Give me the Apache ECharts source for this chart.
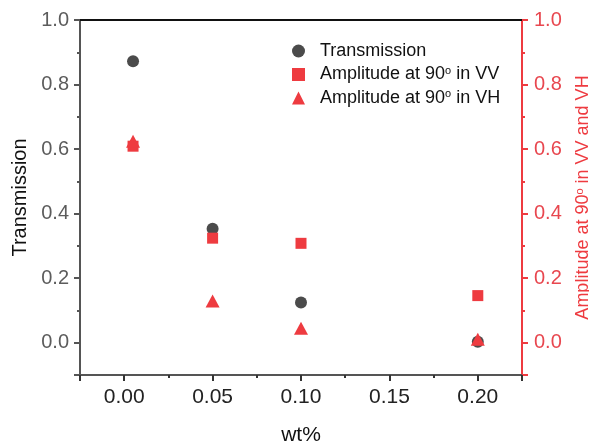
<!DOCTYPE html>
<html>
<head>
<meta charset="utf-8">
<script src="https://cdn.jsdelivr.net/npm/echarts@6/dist/echarts.min.js"></script>
<style>html,body{margin:0;padding:0;background:#fff;}#chart{width:589px;height:443px;}</style>
</head>
<body>
<div id="chart"></div>
<script>
const xValues = [0.005, 0.05, 0.1, 0.2];
const transmission = [0.872, 0.353, 0.125, 0.003];
const ampVV = [0.609, 0.324, 0.308, 0.146];
const ampVH = [0.624, 0.129, 0.045, 0.011];
const xTickLabels = ['0.00', '0.05', '0.10', '0.15', '0.20'];
const yTickLabels = ['0.0', '0.2', '0.4', '0.6', '0.8', '1.0'];

const seriesNames = ['Transmission', 'Amplitude at 90° in VV', 'Amplitude at 90° in VH'];
const GRAY = '#4b4b4b';
const RED = '#EE3B40';
const FONT = 'Liberation Sans, Arial, sans-serif';

function pairs(vals) { return xValues.map((x, i) => [x, vals[i]]); }
function fmtX(v) { const s = v.toFixed(2); return xTickLabels.includes(s) ? s : ''; }
function fmtY(v) { const s = v.toFixed(1); return yTickLabels.includes(s) ? s : ''; }

const chart = echarts.init(document.getElementById('chart'), null, {renderer: 'canvas'});
chart.setOption({
  animation: false,
  backgroundColor: '#fff',
  textStyle: {fontFamily: FONT},
  grid: {left: 80, right: 67, top: 20, bottom: 68, containLabel: false, outerBoundsMode: 'none'},
  legend: {
    orient: 'vertical', left: 287, top: 37, itemGap: 5,
    itemWidth: 13, itemHeight: 13,
    data: seriesNames,
    formatter: n => n.replace('90°', '90{sup|o}'),
    textStyle: {fontSize: 18, color: '#111', fontFamily: FONT, padding: [0, 0, 0, 10],
      rich: {sup: {fontSize: 11, verticalAlign: 'top', padding: [0, 0, 8, 0], color: '#111', fontFamily: FONT}}}
  },
  xAxis: [{
    type: 'value', min: -0.025, max: 0.225, splitNumber: 5,
    name: 'wt%', nameLocation: 'middle', nameGap: 50,
    nameTextStyle: {fontSize: 21, color: '#111', fontFamily: FONT},
    axisLine: {show: true, onZero: false, lineStyle: {color: '#555', width: 2}},
    axisTick: {show: true, inside: false, length: 6, lineStyle: {color: '#333', width: 2}},
    minorTick: {show: true, splitNumber: 2, length: 3, lineStyle: {color: '#333', width: 2}},
    axisLabel: {fontSize: 21, color: '#222', margin: 12, showMinLabel: false, showMaxLabel: false, formatter: fmtX},
    splitLine: {show: false}
  }, {
    type: 'value', min: -0.025, max: 0.225, position: 'top',
    axisLine: {show: true, onZero: false, lineStyle: {color: '#111', width: 2}},
    axisTick: {show: false}, axisLabel: {show: false}, splitLine: {show: false}
  }],
  yAxis: [{
    type: 'value', min: -0.1, max: 1.0, splitNumber: 5,
    name: 'Transmission', nameLocation: 'middle', nameGap: 50, nameRotate: 90,
    nameTextStyle: {fontSize: 20, color: '#111', fontFamily: FONT},
    axisLine: {show: true, onZero: false, lineStyle: {color: '#555', width: 2}},
    axisTick: {show: true, inside: false, length: 6, lineStyle: {color: '#555', width: 2}},
    minorTick: {show: true, splitNumber: 2, length: 3, lineStyle: {color: '#555', width: 2}},
    axisLabel: {fontSize: 20, color: '#5c5c5c', margin: 11, showMinLabel: false, formatter: fmtY},
    splitLine: {show: false}
  }, {
    type: 'value', min: -0.1, max: 1.0, splitNumber: 5, position: 'right',
    name: 'Amplitude at 90{sup|o} in VV and VH', nameLocation: 'middle', nameGap: 52, nameRotate: 90,
    nameTextStyle: {fontSize: 18, color: RED, fontFamily: FONT,
      rich: {sup: {fontSize: 11, verticalAlign: 'top', padding: [0, 0, 8, 0], color: RED, fontFamily: FONT}}},
    axisLine: {show: true, onZero: false, lineStyle: {color: RED, width: 2}},
    axisTick: {show: true, inside: false, length: 6, lineStyle: {color: RED, width: 2}},
    minorTick: {show: true, splitNumber: 2, length: 3, lineStyle: {color: RED, width: 2}},
    axisLabel: {fontSize: 20, color: '#E8474F', margin: 12, showMinLabel: false, formatter: fmtY},
    splitLine: {show: false}
  }],
  series: [
    {name: seriesNames[0], type: 'scatter', xAxisIndex: 0, yAxisIndex: 0, data: pairs(transmission), z: 2,
     symbol: 'circle', symbolSize: 12, itemStyle: {color: GRAY, opacity: 1}},
    {name: seriesNames[1], type: 'scatter', xAxisIndex: 0, yAxisIndex: 1, data: pairs(ampVV), z: 3,
     symbol: 'rect', symbolSize: 11, itemStyle: {color: RED, opacity: 1}},
    {name: seriesNames[2], type: 'scatter', xAxisIndex: 0, yAxisIndex: 1, data: pairs(ampVH), z: 4,
     symbol: 'triangle', symbolSize: [14, 13], itemStyle: {color: RED, opacity: 1}}
  ]
});
</script>
</body>
</html>
